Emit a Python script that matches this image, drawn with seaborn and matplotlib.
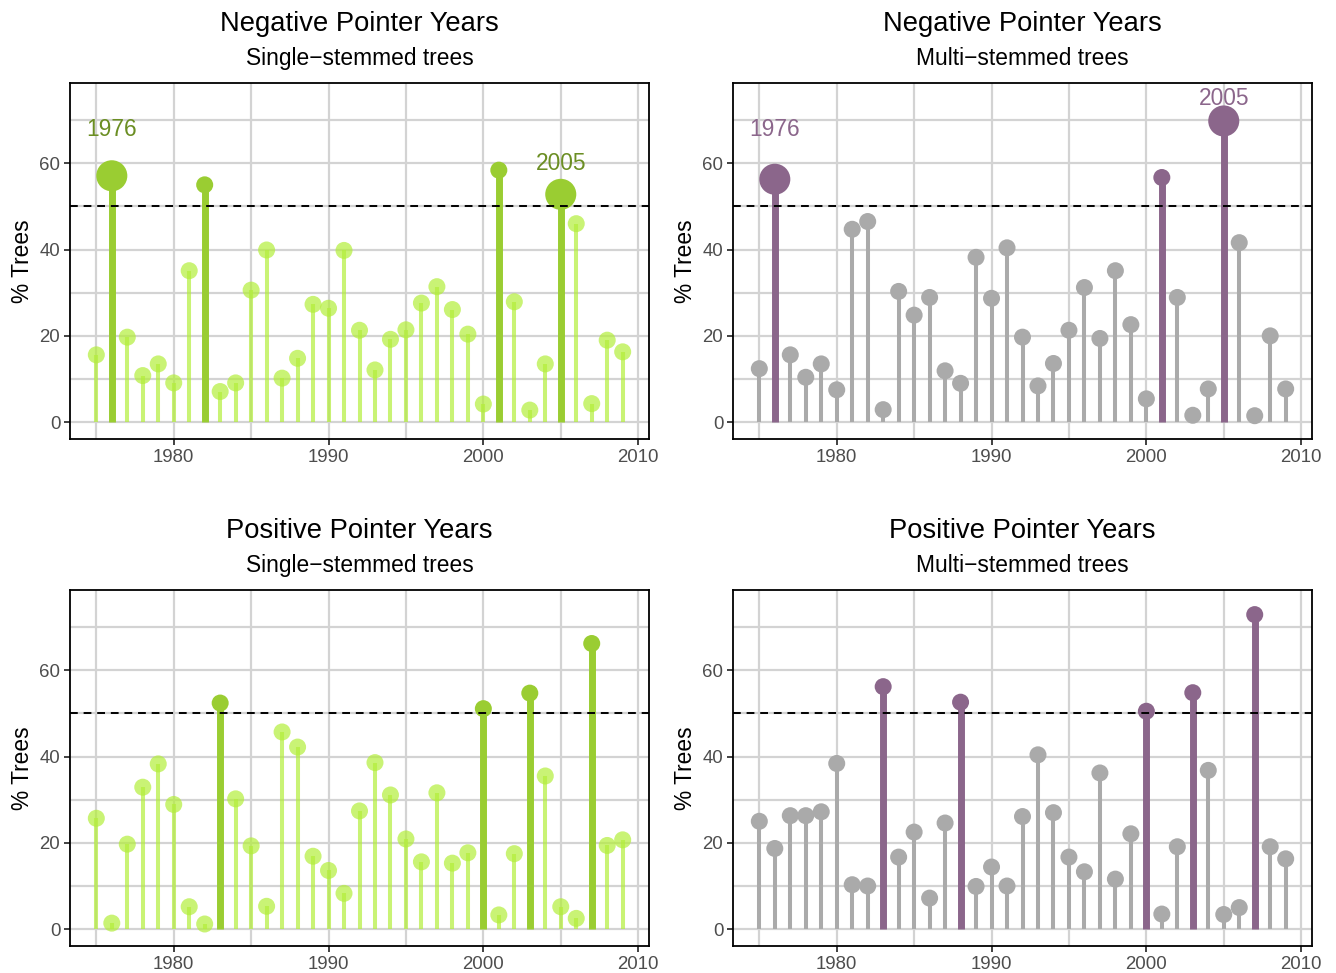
import numpy as np
import pandas as pd
import seaborn as sns
import matplotlib.pyplot as plt

years = list(range(1975, 2010))

neg_single = [15.6, 57.1, 19.7, 10.8, 13.5, 9.1, 35.1, 55.0, 7.1, 9.1,
              30.6, 39.9, 10.2, 14.8, 27.3, 26.4, 39.8, 21.3, 12.1, 19.2,
              21.4, 27.6, 31.4, 26.1, 20.4, 4.2, 58.4, 27.9, 2.8, 13.5,
              52.8, 46.0, 4.3, 19.0, 16.3]
neg_multi = [12.4, 56.3, 15.6, 10.4, 13.5, 7.5, 44.7, 46.5, 2.9, 30.3,
             24.8, 28.9, 11.9, 9.0, 38.2, 28.7, 40.4, 19.7, 8.4, 13.6,
             21.3, 31.2, 19.4, 35.1, 22.6, 5.4, 56.7, 28.9, 1.6, 7.7,
             69.8, 41.6, 1.5, 20.0, 7.7]
pos_single = [25.7, 1.4, 19.7, 32.9, 38.3, 28.9, 5.2, 1.2, 52.4, 30.2,
              19.3, 5.3, 45.7, 42.2, 16.9, 13.6, 8.3, 27.4, 38.6, 31.1,
              20.9, 15.6, 31.6, 15.3, 17.7, 51.1, 3.3, 17.5, 54.7, 35.5,
              5.2, 2.5, 66.2, 19.4, 20.7]
pos_multi = [25.0, 18.7, 26.3, 26.3, 27.2, 38.4, 10.3, 10.0, 56.2, 16.7,
             22.5, 7.2, 24.6, 52.6, 9.9, 14.4, 10.0, 26.1, 40.4, 27.0,
             16.7, 13.3, 36.2, 11.6, 22.1, 50.5, 3.5, 19.1, 54.8, 36.8,
             3.4, 5.0, 72.9, 19.1, 16.3]

threshold = 50
marked_years = [1976, 2005]
neg_single_label_y = [67.9, 60.0]
neg_multi_label_y = [67.9, 74.9]

GREEN_LIGHT = "#b3ee3a"
GREEN_DARK = "#9acd32"
GREEN_TEXT = "#6b8e23"
PURPLE = "#8b668b"
GREY = "#aaaaaa"

sns.set_theme(style="white")
plt.rcParams["font.family"] = ["Liberation Sans", "DejaVu Sans"]

fig = plt.figure(figsize=(13.36, 9.73), dpi=100)

W = 579 / 1336
H = 356 / 973
positions = [
    [70 / 1336, 1 - 439 / 973, W, H],
    [733 / 1336, 1 - 439 / 973, W, H],
    [70 / 1336, 1 - 946 / 973, W, H],
    [733 / 1336, 1 - 946 / 973, W, H],
]


def lollipop(ax, vals, light, light_alpha, dark, title, subtitle,
             marked=(), label_y=(), label_color=None):
    df = pd.DataFrame({"year": years, "pct": vals})
    df["pointer"] = df["pct"] >= threshold
    df["marked"] = df["year"].isin(marked)
    base = df[~df["pointer"]]
    ptr = df[df["pointer"] & ~df["marked"]]
    big = df[df["pointer"] & df["marked"]]

    # ordinary years: thin stems with soft dots
    ax.vlines(base["year"], 0, base["pct"], color=light, alpha=light_alpha,
              lw=2.9, zorder=2)
    sns.scatterplot(data=base, x="year", y="pct", color=light, alpha=light_alpha,
                    s=150, edgecolor="none", linewidth=0, ax=ax, zorder=3,
                    legend=False)
    # pointer years (>= 50 %)
    ax.vlines(df[df["pointer"]]["year"], 0, df[df["pointer"]]["pct"],
              color=dark, lw=5, zorder=2)
    sns.scatterplot(data=ptr, x="year", y="pct", color=dark, s=150,
                    edgecolor="none", linewidth=0, ax=ax, zorder=3, legend=False)
    if len(big):
        sns.scatterplot(data=big, x="year", y="pct", color=dark, s=500,
                        edgecolor="none", linewidth=0, ax=ax, zorder=3,
                        legend=False)
    for yr, ly in zip(marked, label_y):
        ax.text(yr, ly, str(yr), color=label_color, fontsize=16.4,
                ha="center", va="center", zorder=5)

    ax.axhline(threshold, color="black", ls=(0, (4, 3)), lw=1.4, zorder=4)

    ax.set_xlim(1973.3, 2010.7)
    ax.set_ylim(-3.9, 78.6)
    ax.set_xticks([1980, 1990, 2000, 2010])
    ax.set_xticks([1975, 1985, 1995, 2005], minor=True)
    ax.set_yticks([0, 20, 40, 60])
    ax.set_yticks([10, 30, 50, 70], minor=True)
    ax.grid(which="both", color="#d3d3d3", lw=1.6, zorder=0)
    ax.set_axisbelow(True)
    ax.tick_params(which="major", length=4, width=1.3, color="#333333",
                   labelsize=13.4, labelcolor="#4d4d4d", pad=3,
                   bottom=True, left=True)
    ax.tick_params(which="minor", length=0)
    for sp in ax.spines.values():
        sp.set_color("black")
        sp.set_linewidth(1.3)
    ax.set_xlabel("")
    ax.set_ylabel("% Trees", fontsize=16.4, color="black", labelpad=4)

    ax.annotate(subtitle, xy=(0.5, 1), xycoords="axes fraction",
                xytext=(0, 17.5), textcoords="offset points",
                ha="center", va="center", fontsize=16.4, color="black")
    ax.annotate(title, xy=(0.5, 1), xycoords="axes fraction",
                xytext=(0, 42.5), textcoords="offset points",
                ha="center", va="center", fontsize=19.7, color="black")


ax1 = fig.add_axes(positions[0])
lollipop(ax1, neg_single, GREEN_LIGHT, 0.7, GREEN_DARK,
         "Negative Pointer Years", "Single\u2212stemmed trees",
         marked_years, neg_single_label_y, GREEN_TEXT)

ax2 = fig.add_axes(positions[1])
lollipop(ax2, neg_multi, GREY, 1.0, PURPLE,
         "Negative Pointer Years", "Multi\u2212stemmed trees",
         marked_years, neg_multi_label_y, PURPLE)

ax3 = fig.add_axes(positions[2])
lollipop(ax3, pos_single, GREEN_LIGHT, 0.7, GREEN_DARK,
         "Positive Pointer Years", "Single\u2212stemmed trees")

ax4 = fig.add_axes(positions[3])
lollipop(ax4, pos_multi, GREY, 1.0, PURPLE,
         "Positive Pointer Years", "Multi\u2212stemmed trees")

fig.savefig("out.png", dpi=100)
